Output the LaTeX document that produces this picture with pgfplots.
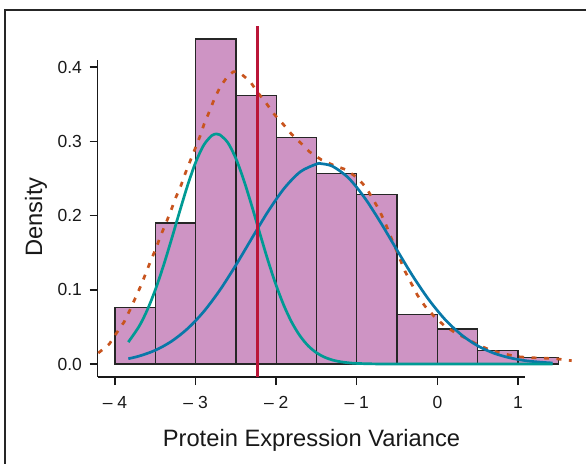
\documentclass[border=0pt]{standalone}
\usepackage{pgfplots}
\pgfplotsset{compat=1.18}
\usepackage{fontspec}
\setmainfont{Liberation Sans}
\definecolor{barfill}{RGB}{206,148,196}
\definecolor{tealc}{RGB}{0,154,148}
\definecolor{bluec}{RGB}{8,120,168}
\definecolor{orangec}{RGB}{200,84,30}
\definecolor{redc}{RGB}{186,22,56}
\begin{document}
\begin{tikzpicture}[x=1pt,y=1pt]
\path[use as bounding box] (0,0) rectangle (586,-463);
\draw[line width=1.3pt, black!85] (5,-470) -- (5,-10) -- (600,-10);
\begin{axis}[
  at={(97.5pt,-377pt)}, anchor=south west,
  scale only axis, width=427.5pt, height=316.8pt,
  xmin=-4.217, xmax=1.087, ymin=-0.0175, ymax=0.4094,
  axis x line*=bottom, axis y line*=left,
  clip=false,
  axis line style={line width=1.4pt, black!90},
  tick style={line width=1.4pt, black!90},
  tick align=outside, major tick length=8pt,
  xtick={-4,-3,-2,-1,0,1},
  xticklabels={\textendash\ 4,\textendash\ 3,\textendash\ 2,\textendash\ 1,0,1},
  ytick={0,0.1,0.2,0.3,0.4},
  yticklabels={0.0,0.1,0.2,0.3,0.4},
  ticklabel style={font=\fontsize{17.5}{19}\selectfont, text=black!90},
  xticklabel style={yshift=-8pt},
  yticklabel style={xshift=-4pt},
  /pgf/number format/assume math mode=true,
]
\addplot[ybar interval, fill=barfill, draw=black!85, line width=1.3pt] coordinates {
(-4,0.0763) (-3.5,0.190) (-3,0.438) (-2.5,0.362) (-2,0.305) (-1.5,0.2565)
(-1,0.228) (-0.5,0.0664) (0,0.0472) (0.5,0.0184) (1,0.0090) (1.5,0.0090)};
\addplot[orangec, line width=2.7pt, dash pattern=on 5pt off 7.5pt, line join=round] coordinates {
(-4.207,0.0148) (-4.07,0.027) (-3.979,0.042) (-3.885,0.057) (-3.814,0.073)
(-3.743,0.090) (-3.677,0.106) (-3.615,0.123) (-3.553,0.140) (-3.491,0.156)
(-3.433,0.173) (-3.367,0.190) (-3.305,0.207) (-3.243,0.225) (-3.183,0.240)
(-3.131,0.256) (-3.069,0.273) (-3.007,0.290) (-2.945,0.307) (-2.892,0.324)
(-2.830,0.340) (-2.768,0.357) (-2.697,0.373) (-2.602,0.388) (-2.53,0.394)
(-2.458,0.393) (-2.325,0.381) (-2.230,0.366) (-2.127,0.352) (-2.036,0.338)
(-1.920,0.324) (-1.812,0.310) (-1.698,0.298) (-1.587,0.286) (-1.436,0.275)
(-1.292,0.268) (-1.138,0.262) (-0.994,0.251) (-0.886,0.238) (-0.803,0.223)
(-0.725,0.208) (-0.65,0.191) (-0.588,0.174) (-0.52,0.156) (-0.402,0.125)
(-0.249,0.093) (-0.154,0.078) (-0.038,0.064) (0.082,0.052) (0.21,0.043)
(0.363,0.034) (0.52,0.025) (0.674,0.018) (0.818,0.014) (0.984,0.010)
(1.15,0.0085) (1.314,0.008) (1.48,0.007) (1.666,0.0045)};
\addplot[bluec, line width=2.7pt, smooth] coordinates {
(-3.835,0.0072) (-3.7,0.0107) (-3.5,0.0185) (-3.3,0.0305) (-3.1,0.0476)
(-2.9,0.0705) (-2.7,0.0994) (-2.5,0.1333) (-2.3,0.1698) (-2.1,0.2057)
(-1.9,0.2368) (-1.7,0.2591) (-1.5,0.2695) (-1.445,0.27) (-1.3,0.2664)
(-1.1,0.2504) (-0.9,0.2236) (-0.7,0.1899) (-0.5,0.1533) (-0.3,0.1176)
(-0.1,0.0858) (0.1,0.0594) (0.3,0.0392) (0.5,0.0245) (0.7,0.0146)
(0.9,0.0083) (1.1,0.0044) (1.3,0.0023) (1.43,0.0014)};
\addplot[tealc, line width=2.7pt, smooth] coordinates {
(-3.835,0.0295) (-3.7,0.0509) (-3.6,0.0727) (-3.5,0.0999) (-3.4,0.1320)
(-3.3,0.1676) (-3.2,0.2047) (-3.1,0.2404) (-3.0,0.2715) (-2.9,0.2948)
(-2.8,0.3078) (-2.74,0.31) (-2.7,0.3090) (-2.6,0.2983) (-2.5,0.2769)
(-2.4,0.2471) (-2.3,0.2121) (-2.2,0.1750) (-2.1,0.1388) (-2.0,0.1059)
(-1.9,0.0777) (-1.8,0.0548) (-1.7,0.0372) (-1.6,0.0242) (-1.5,0.0152)
(-1.4,0.0092) (-1.3,0.0053) (-1.2,0.0030) (-1.1,0.0016) (-1.0,0.0008)
(-0.8,0.0002) (-0.5,0) (0,0) (0.5,0) (1.0,0) (1.43,0)};
\addplot[redc, line width=3pt] coordinates {(-2.23,-0.0175) (-2.23,0.456)};
\end{axis}
\node[anchor=base, font=\fontsize{23.7}{26}\selectfont, text=black!90] at (311.5,-446.7) {Protein Expression Variance};
\node[anchor=base, rotate=90, font=\fontsize{23.7}{26}\selectfont, text=black!90] at (42,-217) {Density};
\end{tikzpicture}
\end{document}
